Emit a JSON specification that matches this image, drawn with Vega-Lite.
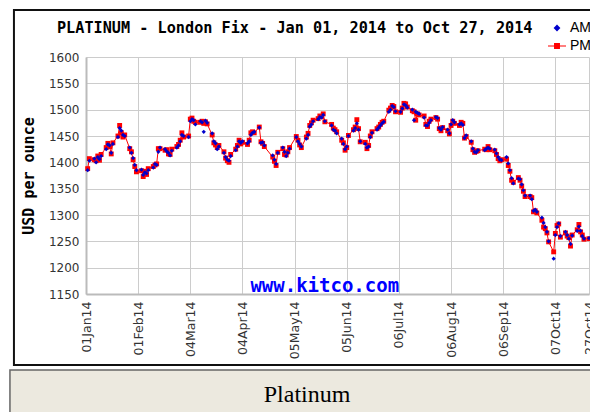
{
  "$schema": "https://vega.github.io/schema/vega-lite/v6.json",
  "width": 503,
  "height": 237,
  "autosize": {"type": "none"},
  "padding": {"left": 86, "top": 57, "right": 1, "bottom": 118},
  "background": "white",
  "config": {"view": {"stroke": null}, "font": "DejaVu Sans"},
  "resolve": {"axis": {"x": "independent", "y": "independent"}},
  "datasets": {
    "fix": [
    {"date":"2014-01-02","AM":1385,"PM":1388},
    {"date":"2014-01-03","AM":1403,"PM":1407},
    {"date":"2014-01-06","AM":1407,"PM":1405},
    {"date":"2014-01-07","AM":1400,"PM":1403},
    {"date":"2014-01-08","AM":1410,"PM":1412},
    {"date":"2014-01-09","AM":1406,"PM":1404},
    {"date":"2014-01-10","AM":1412,"PM":1415},
    {"date":"2014-01-13","AM":1425,"PM":1428},
    {"date":"2014-01-14","AM":1434,"PM":1436},
    {"date":"2014-01-15","AM":1432,"PM":1430},
    {"date":"2014-01-16","AM":1418,"PM":1416},
    {"date":"2014-01-17","AM":1435,"PM":1437},
    {"date":"2014-01-20","AM":1448,"PM":1450},
    {"date":"2014-01-21","AM":1465,"PM":1470},
    {"date":"2014-01-22","AM":1460,"PM":1456},
    {"date":"2014-01-23","AM":1452,"PM":1448},
    {"date":"2014-01-24","AM":1450,"PM":1452},
    {"date":"2014-01-27","AM":1428,"PM":1426},
    {"date":"2014-01-28","AM":1418,"PM":1420},
    {"date":"2014-01-29","AM":1408,"PM":1405},
    {"date":"2014-01-30","AM":1395,"PM":1392},
    {"date":"2014-01-31","AM":1385,"PM":1382},
    {"date":"2014-02-03","AM":1386,"PM":1384},
    {"date":"2014-02-04","AM":1376,"PM":1373},
    {"date":"2014-02-05","AM":1381,"PM":1383},
    {"date":"2014-02-06","AM":1379,"PM":1377},
    {"date":"2014-02-07","AM":1385,"PM":1388},
    {"date":"2014-02-10","AM":1390,"PM":1392},
    {"date":"2014-02-11","AM":1397,"PM":1395},
    {"date":"2014-02-12","AM":1395,"PM":1397},
    {"date":"2014-02-13","AM":1420,"PM":1426},
    {"date":"2014-02-14","AM":1428,"PM":1426},
    {"date":"2014-02-17","AM":1425,"PM":1423},
    {"date":"2014-02-18","AM":1421,"PM":1424},
    {"date":"2014-02-19","AM":1418,"PM":1416},
    {"date":"2014-02-20","AM":1413,"PM":1415},
    {"date":"2014-02-21","AM":1422,"PM":1425},
    {"date":"2014-02-24","AM":1428,"PM":1430},
    {"date":"2014-02-25","AM":1432,"PM":1434},
    {"date":"2014-02-26","AM":1440,"PM":1442},
    {"date":"2014-02-27","AM":1452,"PM":1456},
    {"date":"2014-02-28","AM":1450,"PM":1448},
    {"date":"2014-03-03","AM":1448,"PM":1450},
    {"date":"2014-03-04","AM":1478,"PM":1482},
    {"date":"2014-03-05","AM":1482,"PM":1484},
    {"date":"2014-03-06","AM":1480,"PM":1478},
    {"date":"2014-03-07","AM":1472,"PM":1476},
    {"date":"2014-03-10","AM":1478,"PM":1476},
    {"date":"2014-03-11","AM":1476,"PM":1478},
    {"date":"2014-03-12","AM":1458,"PM":1474},
    {"date":"2014-03-13","AM":1479,"PM":1477},
    {"date":"2014-03-14","AM":1475,"PM":1473},
    {"date":"2014-03-17","AM":1455,"PM":1452},
    {"date":"2014-03-18","AM":1440,"PM":1437},
    {"date":"2014-03-19","AM":1436,"PM":1433},
    {"date":"2014-03-20","AM":1425,"PM":1428},
    {"date":"2014-03-21","AM":1430,"PM":1432},
    {"date":"2014-03-24","AM":1418,"PM":1420},
    {"date":"2014-03-25","AM":1410,"PM":1408},
    {"date":"2014-03-26","AM":1405,"PM":1403},
    {"date":"2014-03-27","AM":1403,"PM":1400},
    {"date":"2014-03-28","AM":1412,"PM":1415},
    {"date":"2014-03-31","AM":1423,"PM":1425},
    {"date":"2014-04-01","AM":1430,"PM":1432},
    {"date":"2014-04-02","AM":1440,"PM":1442},
    {"date":"2014-04-03","AM":1437,"PM":1435},
    {"date":"2014-04-04","AM":1440,"PM":1438},
    {"date":"2014-04-07","AM":1436,"PM":1434},
    {"date":"2014-04-08","AM":1440,"PM":1442},
    {"date":"2014-04-09","AM":1452,"PM":1456},
    {"date":"2014-04-10","AM":1456,"PM":1458},
    {"date":"2014-04-11","AM":1458,"PM":1456},
    {"date":"2014-04-14","AM":1466,"PM":1467},
    {"date":"2014-04-15","AM":1437,"PM":1439},
    {"date":"2014-04-16","AM":1438,"PM":1436},
    {"date":"2014-04-17","AM":1432,"PM":1430},
    {"date":"2014-04-22","AM":1413,"PM":1410},
    {"date":"2014-04-23","AM":1405,"PM":1402},
    {"date":"2014-04-24","AM":1397,"PM":1394},
    {"date":"2014-04-25","AM":1418,"PM":1419},
    {"date":"2014-04-28","AM":1428,"PM":1426},
    {"date":"2014-04-29","AM":1420,"PM":1415},
    {"date":"2014-04-30","AM":1412,"PM":1414},
    {"date":"2014-05-01","AM":1418,"PM":1420},
    {"date":"2014-05-02","AM":1426,"PM":1428},
    {"date":"2014-05-06","AM":1448,"PM":1449},
    {"date":"2014-05-07","AM":1440,"PM":1442},
    {"date":"2014-05-08","AM":1435,"PM":1433},
    {"date":"2014-05-09","AM":1430,"PM":1428},
    {"date":"2014-05-12","AM":1445,"PM":1448},
    {"date":"2014-05-13","AM":1452,"PM":1455},
    {"date":"2014-05-14","AM":1468,"PM":1470},
    {"date":"2014-05-15","AM":1472,"PM":1475},
    {"date":"2014-05-16","AM":1478,"PM":1480},
    {"date":"2014-05-19","AM":1482,"PM":1483},
    {"date":"2014-05-20","AM":1486,"PM":1488},
    {"date":"2014-05-21","AM":1485,"PM":1487},
    {"date":"2014-05-22","AM":1490,"PM":1492},
    {"date":"2014-05-23","AM":1478,"PM":1477},
    {"date":"2014-05-27","AM":1470,"PM":1472},
    {"date":"2014-05-28","AM":1462,"PM":1465},
    {"date":"2014-05-29","AM":1460,"PM":1462},
    {"date":"2014-05-30","AM":1455,"PM":1458},
    {"date":"2014-06-02","AM":1445,"PM":1442},
    {"date":"2014-06-03","AM":1435,"PM":1437},
    {"date":"2014-06-04","AM":1425,"PM":1423},
    {"date":"2014-06-05","AM":1430,"PM":1428},
    {"date":"2014-06-06","AM":1450,"PM":1451},
    {"date":"2014-06-09","AM":1460,"PM":1462},
    {"date":"2014-06-10","AM":1465,"PM":1467},
    {"date":"2014-06-11","AM":1474,"PM":1481},
    {"date":"2014-06-12","AM":1462,"PM":1464},
    {"date":"2014-06-13","AM":1440,"PM":1439},
    {"date":"2014-06-16","AM":1435,"PM":1438},
    {"date":"2014-06-17","AM":1428,"PM":1426},
    {"date":"2014-06-18","AM":1430,"PM":1432},
    {"date":"2014-06-19","AM":1448,"PM":1450},
    {"date":"2014-06-20","AM":1456,"PM":1458},
    {"date":"2014-06-23","AM":1462,"PM":1464},
    {"date":"2014-06-24","AM":1466,"PM":1467},
    {"date":"2014-06-25","AM":1470,"PM":1472},
    {"date":"2014-06-26","AM":1474,"PM":1476},
    {"date":"2014-06-27","AM":1477,"PM":1478},
    {"date":"2014-06-30","AM":1496,"PM":1499},
    {"date":"2014-07-01","AM":1500,"PM":1503},
    {"date":"2014-07-02","AM":1507,"PM":1508},
    {"date":"2014-07-03","AM":1505,"PM":1506},
    {"date":"2014-07-04","AM":1497,"PM":1496},
    {"date":"2014-07-07","AM":1496,"PM":1495},
    {"date":"2014-07-08","AM":1502,"PM":1503},
    {"date":"2014-07-09","AM":1510,"PM":1512},
    {"date":"2014-07-10","AM":1508,"PM":1511},
    {"date":"2014-07-11","AM":1504,"PM":1505},
    {"date":"2014-07-14","AM":1500,"PM":1498},
    {"date":"2014-07-15","AM":1480,"PM":1496},
    {"date":"2014-07-16","AM":1496,"PM":1480},
    {"date":"2014-07-17","AM":1494,"PM":1492},
    {"date":"2014-07-18","AM":1492,"PM":1490},
    {"date":"2014-07-21","AM":1485,"PM":1488},
    {"date":"2014-07-22","AM":1470,"PM":1472},
    {"date":"2014-07-23","AM":1470,"PM":1468},
    {"date":"2014-07-24","AM":1475,"PM":1478},
    {"date":"2014-07-25","AM":1480,"PM":1482},
    {"date":"2014-07-28","AM":1486,"PM":1485},
    {"date":"2014-07-29","AM":1484,"PM":1482},
    {"date":"2014-07-30","AM":1465,"PM":1464},
    {"date":"2014-07-31","AM":1462,"PM":1460},
    {"date":"2014-08-01","AM":1467,"PM":1466},
    {"date":"2014-08-04","AM":1462,"PM":1460},
    {"date":"2014-08-05","AM":1455,"PM":1454},
    {"date":"2014-08-06","AM":1472,"PM":1470},
    {"date":"2014-08-07","AM":1480,"PM":1478},
    {"date":"2014-08-08","AM":1476,"PM":1474},
    {"date":"2014-08-11","AM":1472,"PM":1470},
    {"date":"2014-08-12","AM":1474,"PM":1476},
    {"date":"2014-08-13","AM":1471,"PM":1474},
    {"date":"2014-08-14","AM":1446,"PM":1446},
    {"date":"2014-08-15","AM":1451,"PM":1449},
    {"date":"2014-08-18","AM":1440,"PM":1438},
    {"date":"2014-08-19","AM":1426,"PM":1424},
    {"date":"2014-08-20","AM":1420,"PM":1419},
    {"date":"2014-08-21","AM":1419,"PM":1421},
    {"date":"2014-08-22","AM":1423,"PM":1422},
    {"date":"2014-08-26","AM":1423,"PM":1425},
    {"date":"2014-08-27","AM":1426,"PM":1424},
    {"date":"2014-08-28","AM":1428,"PM":1430},
    {"date":"2014-08-29","AM":1426,"PM":1424},
    {"date":"2014-09-01","AM":1424,"PM":1422},
    {"date":"2014-09-02","AM":1417,"PM":1415},
    {"date":"2014-09-03","AM":1410,"PM":1407},
    {"date":"2014-09-04","AM":1405,"PM":1403},
    {"date":"2014-09-05","AM":1404,"PM":1405},
    {"date":"2014-09-08","AM":1410,"PM":1406},
    {"date":"2014-09-09","AM":1398,"PM":1394},
    {"date":"2014-09-10","AM":1385,"PM":1383},
    {"date":"2014-09-11","AM":1370,"PM":1366},
    {"date":"2014-09-12","AM":1360,"PM":1362},
    {"date":"2014-09-15","AM":1369,"PM":1371},
    {"date":"2014-09-16","AM":1368,"PM":1366},
    {"date":"2014-09-17","AM":1358,"PM":1355},
    {"date":"2014-09-18","AM":1347,"PM":1345},
    {"date":"2014-09-19","AM":1337,"PM":1335},
    {"date":"2014-09-22","AM":1337,"PM":1335},
    {"date":"2014-09-23","AM":1330,"PM":1333},
    {"date":"2014-09-24","AM":1308,"PM":1306},
    {"date":"2014-09-25","AM":1310,"PM":1308},
    {"date":"2014-09-26","AM":1306,"PM":1304},
    {"date":"2014-09-29","AM":1295,"PM":1290},
    {"date":"2014-09-30","AM":1285,"PM":1277},
    {"date":"2014-10-01","AM":1277,"PM":1274},
    {"date":"2014-10-02","AM":1268,"PM":1266},
    {"date":"2014-10-03","AM":1250,"PM":1249},
    {"date":"2014-10-06","AM":1217,"PM":1230},
    {"date":"2014-10-07","AM":1262,"PM":1265},
    {"date":"2014-10-08","AM":1277,"PM":1280},
    {"date":"2014-10-09","AM":1284,"PM":1283},
    {"date":"2014-10-10","AM":1260,"PM":1258},
    {"date":"2014-10-13","AM":1268,"PM":1266},
    {"date":"2014-10-14","AM":1262,"PM":1260},
    {"date":"2014-10-15","AM":1255,"PM":1257},
    {"date":"2014-10-16","AM":1245,"PM":1241},
    {"date":"2014-10-17","AM":1261,"PM":1262},
    {"date":"2014-10-20","AM":1270,"PM":1272},
    {"date":"2014-10-21","AM":1278,"PM":1282},
    {"date":"2014-10-22","AM":1270,"PM":1268},
    {"date":"2014-10-23","AM":1260,"PM":1262},
    {"date":"2014-10-24","AM":1255,"PM":1254},
    {"date":"2014-10-27","AM":1256,"PM":1255}
    ]
  },
  "layer": [
    {
      "data": {"name": "fix"},
      "transform": [{"fold": ["AM", "PM"], "as": ["series", "price"]}],
      "encoding": {
        "x": {
          "field": "date",
          "type": "temporal",
          "scale": {"type": "utc", "domain": [{"year": 2014, "month": 1, "date": 1, "utc": true}, {"year": 2014, "month": 10, "date": 27, "utc": true}]},
          "axis": {
            "orient": "bottom",
            "title": null,
            "values": [
              {"year": 2014, "month": 1, "date": 1, "utc": true},
              {"year": 2014, "month": 2, "date": 1, "utc": true},
              {"year": 2014, "month": 3, "date": 4, "utc": true},
              {"year": 2014, "month": 4, "date": 4, "utc": true},
              {"year": 2014, "month": 5, "date": 5, "utc": true},
              {"year": 2014, "month": 6, "date": 5, "utc": true},
              {"year": 2014, "month": 7, "date": 6, "utc": true},
              {"year": 2014, "month": 8, "date": 6, "utc": true},
              {"year": 2014, "month": 9, "date": 6, "utc": true},
              {"year": 2014, "month": 10, "date": 7, "utc": true},
              {"year": 2014, "month": 10, "date": 27, "utc": true}
            ],
            "format": "%d%b%y",
            "labelAngle": 270,
            "labelFont": "DejaVu Sans",
            "labelFontSize": 12.5,
            "labelColor": "#333333",
            "labelPadding": 7,
            "labelOverlap": false,
            "labelFlush": false,
            "labelBound": false,
            "ticks": false,
            "domainColor": "#bbbbbb",
            "domainWidth": 2,
            "grid": true,
            "gridColor": "#cccccc",
            "gridWidth": 1
          }
        },
        "y": {
          "field": "price",
          "type": "quantitative",
          "scale": {"domain": [1150, 1600], "nice": false, "zero": false},
          "axis": {
            "orient": "left",
            "title": "USD per ounce",
            "titleFont": "DejaVu Sans Mono",
            "titleFontSize": 15,
            "titleFontWeight": "bold",
            "titleColor": "#000000",
            "titlePadding": 12,
            "values": [1150, 1200, 1250, 1300, 1350, 1400, 1450, 1500, 1550, 1600],
            "format": "d",
            "labelFont": "DejaVu Sans",
            "labelFontSize": 12,
            "labelColor": "#333333",
            "labelPadding": 7,
            "labelOverlap": false,
            "ticks": false,
            "domainColor": "#bbbbbb",
            "domainWidth": 2,
            "grid": true,
            "gridColor": "#cccccc",
            "gridWidth": 1
          }
        }
      },
      "layer": [
        {
          "transform": [{"filter": "datum.series === 'PM'"}],
          "mark": {"type": "line", "color": "#ff0000", "strokeWidth": 1}
        },
        {
          "transform": [{"filter": "datum.series === 'PM'"}],
          "mark": {"type": "point", "shape": "square", "filled": true, "size": 24, "opacity": 1},
          "encoding": {
            "color": {
              "field": "series",
              "type": "nominal",
              "scale": {"domain": ["AM", "PM"], "range": ["#0000cc", "#ff0000"]},
              "legend": {
                "orient": "none",
                "legendX": 461,
                "legendY": -39,
                "title": null,
                "padding": 0,
                "labelFont": "Liberation Sans",
                "labelFontSize": 14,
                "labelColor": "#000000",
                "labelOffset": 3,
                "symbolSize": 324,
                "rowPadding": 1,
                "symbolType": {"expr": "datum.value === 'PM' ? 'M-1,-0.06L1,-0.06L1,0.06L-1,0.06Z M-0.33,-0.33L0.33,-0.33L0.33,0.33L-0.33,0.33Z' : 'M0,-0.38L0.38,0L0,0.38L-0.38,0Z'"}
              }
            }
          }
        },
        {
          "transform": [{"filter": "datum.series === 'AM'"}],
          "mark": {"type": "point", "shape": "diamond", "filled": true, "size": 18, "opacity": 1, "color": "#0000cc"}
        }
      ]
    },
    {
      "data": {"values": [{"frame": "chart"}]},
      "mark": {"type": "rect", "filled": false, "color": "#111111", "strokeWidth": 2},
      "encoding": {
        "x": {"datum": {"year": 2013, "month": 11, "date": 19, "hours": 4, "utc": true}, "type": "temporal", "axis": null},
        "x2": {"datum": {"year": 2014, "month": 11, "date": 15, "utc": true}},
        "y": {"datum": 1689.2, "type": "quantitative", "axis": null},
        "y2": {"datum": 1015.2}
      }
    },
    {
      "data": {"values": [{"frame": "caption"}]},
      "mark": {"type": "rect", "fill": "#ECE9DF", "stroke": "#666666", "strokeWidth": 1.5},
      "encoding": {
        "x": {"datum": {"year": 2013, "month": 11, "date": 16, "hours": 19, "utc": true}, "type": "temporal", "axis": null},
        "x2": {"datum": {"year": 2014, "month": 11, "date": 15, "utc": true}},
        "y": {"datum": 1005.7, "type": "quantitative", "axis": null},
        "y2": {"datum": 900}
      }
    },
    {
      "data": {"values": [{"label": "Platinum"}]},
      "mark": {"type": "text", "font": "Liberation Serif", "fontSize": 24, "color": "#000000", "align": "center", "baseline": "middle"},
      "encoding": {
        "x": {"datum": {"year": 2014, "month": 5, "date": 12, "hours": 10, "utc": true}, "type": "temporal", "axis": null},
        "y": {"datum": 958.2, "type": "quantitative", "axis": null},
        "text": {"field": "label"}
      }
    },
    {
      "data": {"values": [{"label": "PLATINUM - London Fix - Jan 01, 2014 to Oct 27, 2014"}]},
      "mark": {"type": "text", "font": "DejaVu Sans Mono", "fontSize": 15.2, "fontWeight": "bold", "color": "#000000", "align": "left", "baseline": "alphabetic"},
      "encoding": {
        "x": {"datum": {"year": 2013, "month": 12, "date": 14, "hours": 18, "utc": true}, "type": "temporal", "axis": null},
        "y": {"datum": 1646, "type": "quantitative", "axis": null},
        "text": {"field": "label"}
      }
    },
    {
      "data": {"values": [{"label": "www.kitco.com"}]},
      "mark": {"type": "text", "font": "DejaVu Sans Mono", "fontSize": 19, "fontWeight": "bold", "color": "#0000ff", "align": "center", "baseline": "alphabetic"},
      "encoding": {
        "x": {"datum": {"year": 2014, "month": 5, "date": 22, "hours": 22, "utc": true}, "type": "temporal", "axis": null},
        "y": {"datum": 1153.8, "type": "quantitative", "axis": null},
        "text": {"field": "label"}
      }
    }
  ]
}
